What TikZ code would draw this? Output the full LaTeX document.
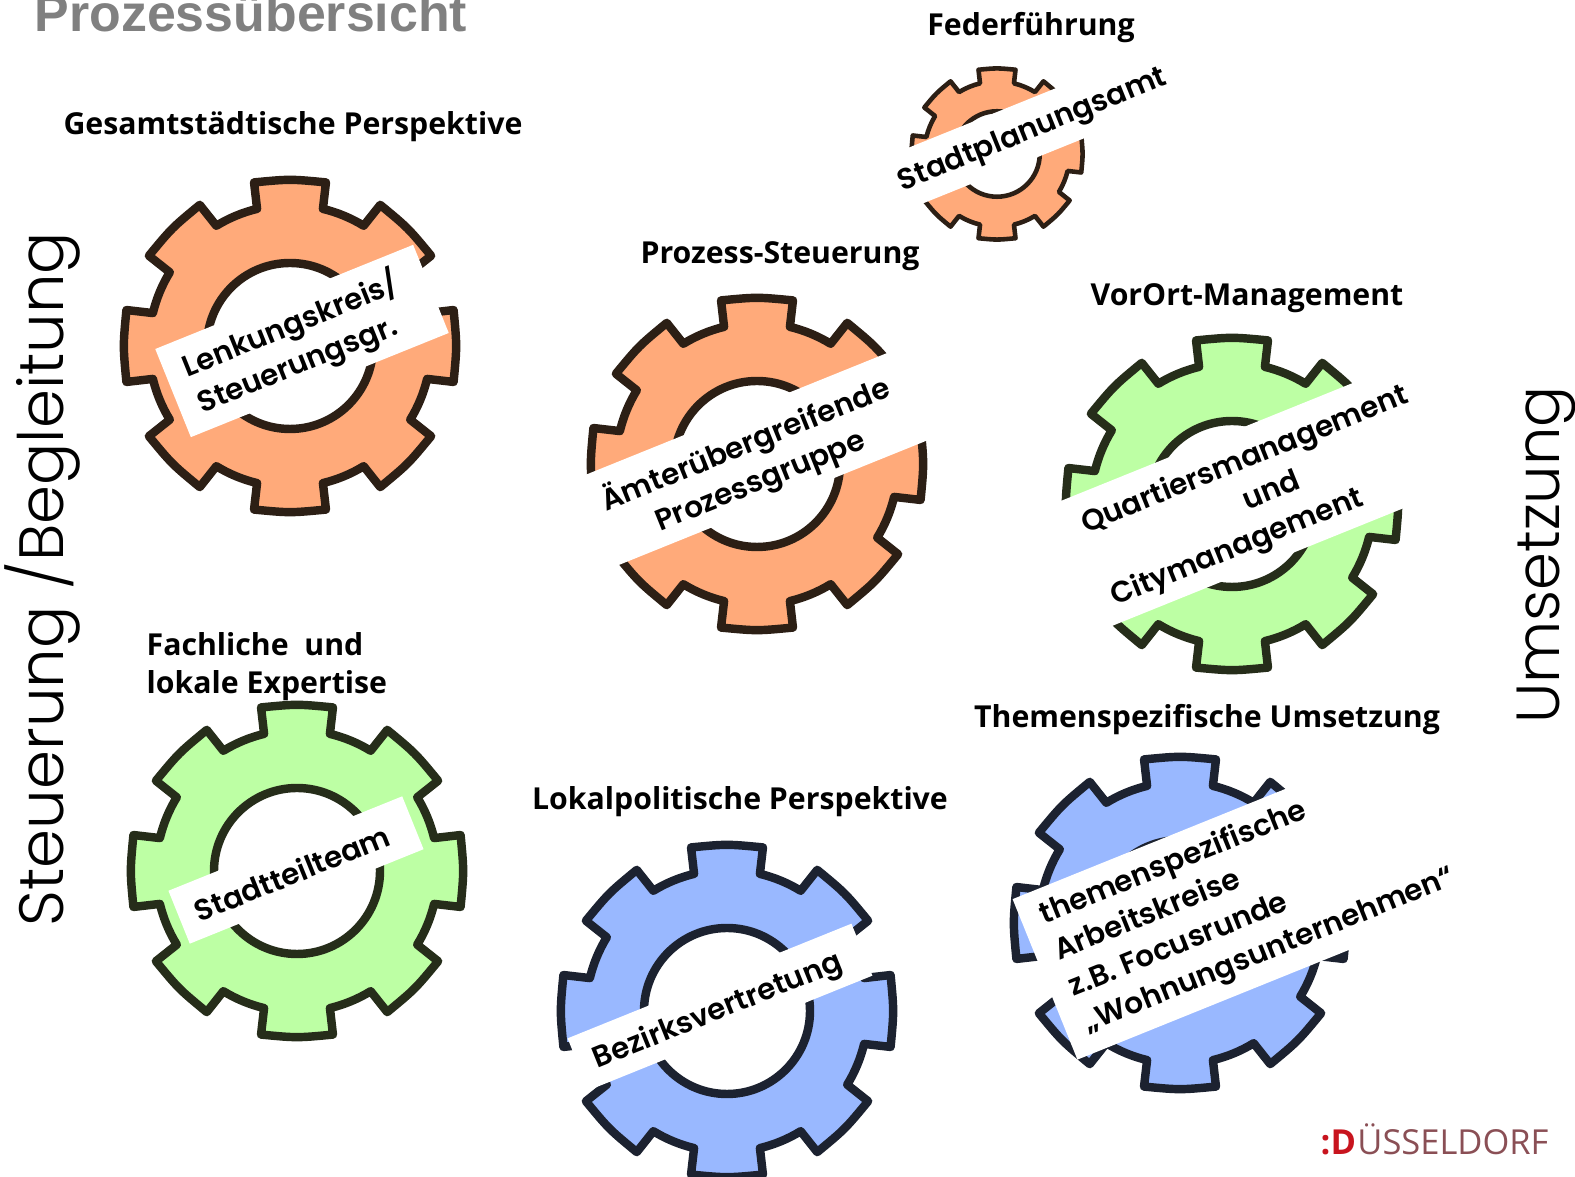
\documentclass[tikz,border=0pt]{standalone}
\usepackage{fontspec}
\setmainfont{Open Sans}
\newfontfamily\titlefont{Liberation Sans}
\newfontfamily\gearfont{Poppins SemiBold}
\newfontfamily\sidefont{Poppins Light}
\definecolor{gorange}{HTML}{FFAA7A}
\definecolor{lorange}{HTML}{2C1F15}
\definecolor{ggreen}{HTML}{BDFFA4}
\definecolor{lgreen}{HTML}{262D1A}
\definecolor{gblue}{HTML}{99B8FF}
\definecolor{lblue}{HTML}{1C2230}
\definecolor{logored}{HTML}{C8141E}
\definecolor{logogray}{HTML}{8A4F55}
\tikzset{every picture/.style = {x=0.01cm, y=-0.01cm}}
\tikzset{wheel/.style = {line width=2.4pt, line join=round}}
\tikzset{orange/.style = {wheel, fill=gorange, draw=lorange}}
\tikzset{green/.style = {wheel, fill=ggreen, draw=lgreen}}
\tikzset{blue/.style = {wheel, fill=gblue, draw=lblue}}
\tikzset{band/.style = {fill=white, rotate=22, inner sep=0, minimum width=#1}}
\tikzset{bandtext/.style = {rotate=22, inner sep=0, font=\gearfont\fontsize{8.4}{11.1}\selectfont}}
\tikzset{head/.style = {anchor=base, inner sep=0, font=\bfseries\fontsize{8.6}{10.8}\selectfont}}
\tikzset{side/.style = {anchor=base, rotate=90, inner sep=0}}
% x, y, scale, style
\newcommand{\gear}[4]{
  \begin{scope}[shift={(#1, #2)}, scale=#3]
    \draw[#4] (-12.4:167.5) foreach \a in {0, 45, ..., 315} {
      .. controls (\a:167) .. ({\a+12.4}:167.5)
      -- ({\a+13.5}:141) arc[start angle=\a+13.5, end angle=\a+31.5, radius=141]
      -- ({\a+32.6}:167.5)} -- cycle;
    \draw[#4, fill=white] (0, 0) circle[radius=83];
  \end{scope}
}
\begin{document}
\begin{tikzpicture}
  \useasboundingbox (0, 0) rectangle (1575, 1177);

  \node[anchor=base west, inner sep=0, gray, font=\titlefont\bfseries\fontsize{14.75}{15}\selectfont] (title) at (34, 32) {Prozessübersicht};

  \node[side, font=\sidefont\fontsize{17.8}{18}\selectfont] (left) at (64, 579) {Steuerung /Begleitung};
  \node[side, font=\sidefont\fontsize{17.3}{18}\selectfont] (right) at (1559, 555) {Umsetzung};

  \node[head] (feder) at (1031, 36) {Federführung};
  \node[head] (gesamt) at (293, 135) {Gesamtstädtische Perspektive};
  \node[head] (prozess) at (780, 264) {Prozess-Steuerung};
  \node[head] (vorort) at (1247, 306) {VorOrt-Management};
  \node[head, anchor=base west] (fach) at (146, 656) {Fachliche \ und};
  \node[head, anchor=base west] (lokal) at (146, 694) {lokale Expertise};
  \node[head] (politik) at (740, 810) {Lokalpolitische Perspektive};
  \node[head] (thema) at (1207, 728) {Themenspezifische Umsetzung};

  \gear{997}{154}{0.515}{orange, line width=1.3pt}
  \node[band=295*0.2845pt, minimum height=57*0.2845pt] (bandamt) at (1031, 129) {};
  \node[bandtext] (amt) at (1033, 131) {Stadtplanungsamt};

  \gear{290}{346}{1}{orange}
  \node[band=278*0.2845pt, minimum height=95*0.2845pt] (bandkreis) at (302, 341) {};
  \node[bandtext, align=left] (kreis) at (298, 343) {Lenkungskreis/\\Steuerungsgr.};

  \gear{757}{464}{1}{orange}
  \node[band=350*0.2845pt, minimum height=96*0.2845pt] (bandgruppe) at (753, 459) {};
  \node[bandtext, align=center] (gruppe) at (753, 463) {Ämterübergreifende\\Prozessgruppe};

  \gear{1232}{504}{1}{green}
  \node[band=404*0.2845pt, minimum height=135*0.2845pt] (bandquartier) at (1246, 499) {};
  \node[bandtext, align=left] (quartier) at (1260, 497) {Quartiersmanagement\\\hspace*{45pt}und\\Citymanagement};

  \gear{297}{871}{1}{green}
  \node[band=252*0.2845pt, minimum height=57*0.2845pt] (bandteam) at (296, 870) {};
  \node[bandtext] (team) at (292, 873) {Stadtteilteam};

  \gear{727}{1011}{1}{blue}
  \node[band=306*0.2845pt, minimum height=56*0.2845pt] (bandbezirk) at (720, 1007) {};
  \node[bandtext] (bezirk) at (718, 1012) {Bezirksvertretung};

  \gear{1180}{923}{1}{blue}
  \node[band=429*0.2845pt, minimum height=173*0.2845pt] (bandkreise) at (1244, 899) {};
  \node[bandtext, align=left] (kreise) at (1248, 897) {themenspezifische\\Arbeitskreise\\z.B. Focusrunde\\„Wohnungsunternehmen“};

  \node[anchor=base west, inner sep=0, logored, font=\bfseries\fontsize{9.8}{10}\selectfont] (logod) at (1320, 1155) {:D};
  \node[anchor=base west, inner sep=0, logogray, font=\fontsize{9.8}{10}\selectfont] (logo) at (logod.base east) {ÜSSELDORF};
\end{tikzpicture}
\end{document}
